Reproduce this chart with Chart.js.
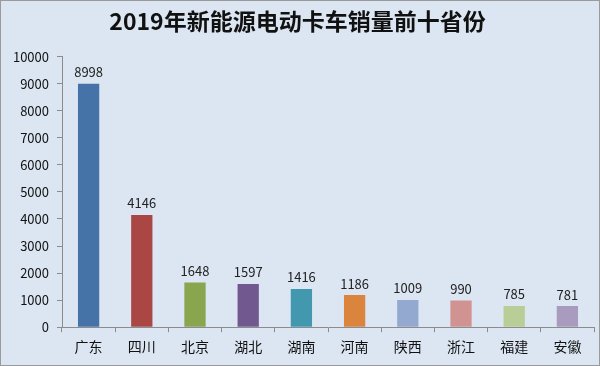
<!DOCTYPE html>
<html>
<head>
<meta charset="utf-8">
<script src="https://cdn.jsdelivr.net/npm/chart.js@4"></script>
<style>
  body { margin: 0; }
  #box {
    width: 600px; height: 366px; box-sizing: border-box;
    border: 1px solid #9a9a9a; background: #dce6f2;
  }
</style>
</head>
<body>
<div id="box"><canvas id="chart" width="598" height="364"></canvas></div>
<script>
// data
const provinces = ['广东', '四川', '北京', '湖北', '湖南', '河南', '陕西', '浙江', '福建', '安徽'];
const sales = [8998, 4146, 1648, 1597, 1416, 1186, 1009, 990, 785, 781];
const barColors = ['#4572a7', '#aa4643', '#89a54e', '#71588f', '#4198af',
                   '#db843d', '#93a9cf', '#d19392', '#b9cd96', '#a99bbd'];
const titleText = '2019年新能源电动卡车销量前十省份';

const cjk = "'Noto Sans CJK SC', 'Noto Sans', sans-serif";

// value labels above each bar
const valueLabels = {
  id: 'valueLabels',
  afterDatasetsDraw(chart) {
    const ctx = chart.ctx;
    const meta = chart.getDatasetMeta(0);
    ctx.save();
    ctx.font = '13px ' + cjk;
    ctx.fillStyle = '#222';
    ctx.textAlign = 'center';
    ctx.textBaseline = 'bottom';
    meta.data.forEach((bar, i) => {
      ctx.fillText(String(sales[i]), bar.x, bar.y - 5);
    });
    ctx.restore();
  }
};

new Chart(document.getElementById('chart'), {
  type: 'bar',
  data: {
    labels: provinces,
    datasets: [{
      data: sales,
      backgroundColor: barColors,
      borderWidth: 0,
      categoryPercentage: 1,
      barPercentage: 0.4
    }]
  },
  options: {
    responsive: false,
    animation: false,
    layout: { padding: { left: 0, right: 5, top: 0, bottom: 4 } },
    plugins: {
      legend: { display: false },
      tooltip: { enabled: false },
      title: {
        display: true,
        text: titleText,
        color: '#111',
        font: { family: cjk, size: 23, weight: 'bold' },
        padding: { top: 6, bottom: 22 }
      }
    },
    scales: {
      x: {
        grid: { drawOnChartArea: false, drawTicks: true, tickLength: 5, color: '#8c8c8c', offset: true },
        border: { color: '#8c8c8c' },
        ticks: { color: '#111', font: { family: cjk, size: 14 }, padding: 6 }
      },
      y: {
        min: 0, max: 10000,
        afterFit(s) { s.width = 61; },
        grid: { drawOnChartArea: false, drawTicks: true, tickLength: 5, color: '#8c8c8c' },
        border: { color: '#8c8c8c' },
        ticks: {
          stepSize: 1000, color: '#111', font: { family: cjk, size: 13 }, padding: 8,
          callback: v => String(v)
        }
      }
    }
  },
  plugins: [valueLabels]
});
</script>
</body>
</html>
